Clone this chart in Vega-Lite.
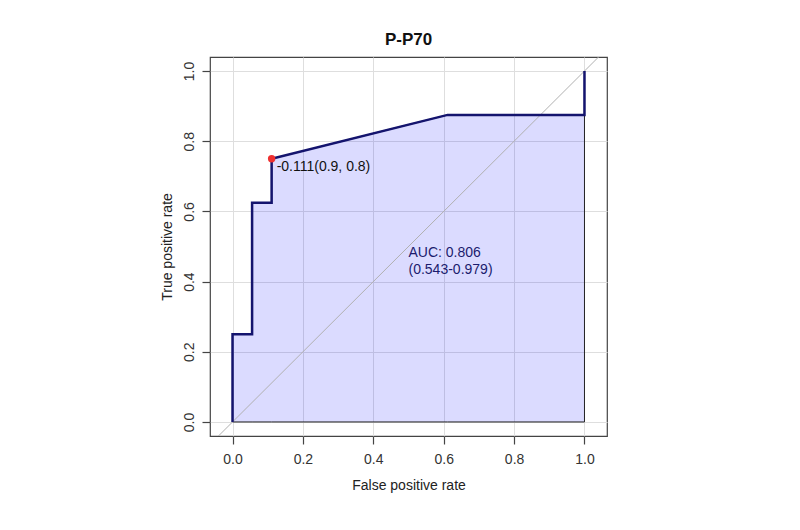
{
  "$schema": "https://vega.github.io/schema/vega-lite/v6.json",
  "width": 397,
  "height": 379,
  "autosize": "none",
  "padding": {"left": 210, "top": 57, "right": 193, "bottom": 94},
  "background": "white",
  "title": {"text": "P-P70", "fontSize": 17, "fontWeight": "bold", "font": "Liberation Sans", "color": "#111111", "offset": 8, "anchor": "middle"},
  "config": {"view": {"stroke": "#444444", "strokeWidth": 1.2}, "font": "Liberation Sans"},
  "datasets": {
    "roc": [
      {"i": 0, "fpr": 0, "tpr": 0},
      {"i": 1, "fpr": 0, "tpr": 0.25},
      {"i": 2, "fpr": 0.0556, "tpr": 0.25},
      {"i": 3, "fpr": 0.0556, "tpr": 0.625},
      {"i": 4, "fpr": 0.1111, "tpr": 0.625},
      {"i": 5, "fpr": 0.1111, "tpr": 0.75},
      {"i": 6, "fpr": 0.6111, "tpr": 0.875},
      {"i": 7, "fpr": 1, "tpr": 0.875},
      {"i": 8, "fpr": 1, "tpr": 1}
    ],
    "diag": [{"fpr": -0.1, "tpr": -0.1}, {"fpr": 1.1, "tpr": 1.1}],
    "best": [{"fpr": 0.1111, "tpr": 0.75, "label": "-0.111(0.9, 0.8)"}],
    "auc": [{"fpr": 0.5, "tpr": 0.5, "label": ["AUC: 0.806", "(0.543-0.979)"]}]
  },
  "layer": [
    {
      "data": {"name": "roc"},
      "mark": {"type": "area", "fill": "#0000ff", "fillOpacity": 0.14, "stroke": "#222222", "strokeWidth": 1},
      "encoding": {
        "x": {
          "field": "fpr", "type": "quantitative",
          "scale": {"domain": [-0.064, 1.064], "nice": false, "zero": false},
          "axis": {
            "title": "False positive rate",
            "values": [0, 0.1, 0.2, 0.3, 0.4, 0.5, 0.6, 0.7, 0.8, 0.9, 1],
            "labelExpr": "round(datum.value*10)%2==0 ? format(datum.value,'.1f') : ''",
            "tickOpacity": {"condition": {"test": "round(datum.value*10)%2==0", "value": 1}, "value": 0},
            "domain": false, "grid": true, "gridColor": "#dedede", "gridWidth": 1,
            "tickSize": 8, "tickColor": "#444444", "tickWidth": 1.2,
            "labelFontSize": 14, "labelColor": "#333333", "labelPadding": 8,
            "labelFlush": false, "labelOverlap": false, "labelBound": false,
            "titleFontSize": 14, "titleFontWeight": "normal", "titleColor": "#222222", "titlePadding": 12
          }
        },
        "y": {
          "field": "tpr", "type": "quantitative",
          "scale": {"domain": [-0.04, 1.04], "nice": false, "zero": false},
          "axis": {
            "title": "True positive rate",
            "values": [0, 0.1, 0.2, 0.3, 0.4, 0.5, 0.6, 0.7, 0.8, 0.9, 1],
            "labelExpr": "round(datum.value*10)%2==0 ? format(datum.value,'.1f') : ''",
            "tickOpacity": {"condition": {"test": "round(datum.value*10)%2==0", "value": 1}, "value": 0},
            "domain": false, "grid": true, "gridColor": "#dedede", "gridWidth": 1,
            "tickSize": 8, "tickColor": "#444444", "tickWidth": 1.2,
            "labelFontSize": 14, "labelColor": "#333333", "labelPadding": 6,
            "labelAngle": -90, "labelAlign": "center", "labelBaseline": "bottom",
            "labelFlush": false, "labelOverlap": false, "labelBound": false,
            "titleFontSize": 14, "titleFontWeight": "normal", "titleColor": "#222222", "titlePadding": 8
          }
        },
        "y2": {"datum": 0}
      }
    },
    {
      "data": {"name": "diag"},
      "mark": {"type": "line", "color": "#b0b0b0", "strokeWidth": 1, "clip": true},
      "encoding": {
        "x": {"field": "fpr", "type": "quantitative"},
        "y": {"field": "tpr", "type": "quantitative"}
      }
    },
    {
      "data": {"name": "roc"},
      "mark": {"type": "line", "color": "#14146e", "strokeWidth": 2.5, "strokeJoin": "miter", "strokeCap": "butt"},
      "encoding": {
        "x": {"field": "fpr", "type": "quantitative"},
        "y": {"field": "tpr", "type": "quantitative"},
        "order": {"field": "i", "type": "quantitative"}
      }
    },
    {
      "data": {"name": "best"},
      "mark": {"type": "point", "filled": true, "color": "#ee3030", "size": 55, "opacity": 1},
      "encoding": {
        "x": {"field": "fpr", "type": "quantitative"},
        "y": {"field": "tpr", "type": "quantitative"}
      }
    },
    {
      "data": {"name": "best"},
      "mark": {"type": "text", "align": "left", "baseline": "top", "dx": 5, "dy": 1, "fontSize": 14, "color": "#111111"},
      "encoding": {
        "x": {"field": "fpr", "type": "quantitative"},
        "y": {"field": "tpr", "type": "quantitative"},
        "text": {"field": "label"}
      }
    },
    {
      "data": {"name": "auc"},
      "mark": {"type": "text", "align": "left", "baseline": "alphabetic", "dy": 10, "fontSize": 14, "lineHeight": 17, "color": "#1c1c6e"},
      "encoding": {
        "x": {"field": "fpr", "type": "quantitative"},
        "y": {"field": "tpr", "type": "quantitative"},
        "text": {"field": "label"}
      }
    }
  ]
}
